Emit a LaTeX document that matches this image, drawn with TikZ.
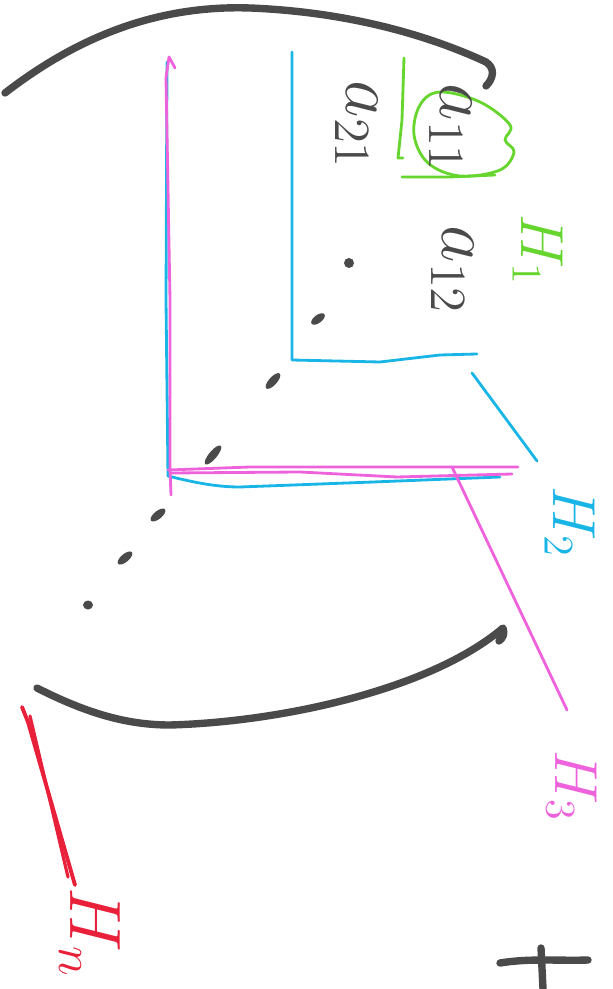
\documentclass[tikz,border=0pt]{standalone}
\usepackage{tikz}
\usetikzlibrary{calc, positioning}

\definecolor{inkgray}{HTML}{4A4A4A}
\definecolor{inkgreen}{HTML}{66D62E}
\definecolor{inkcyan}{HTML}{19B5E6}
\definecolor{inkpink}{HTML}{EE62DC}
\definecolor{inkred}{HTML}{E8203A}

\begin{document}
\begin{tikzpicture}[x=0.01cm, y=-0.01cm,
    bracket/.style={line width=2.1pt, inkgray, line cap=round, line join=round},
    pen/.style={line width=0.8pt, line cap=round, line join=round},
    entry/.style={rotate=-90, inner sep=0pt, text=inkgray, font=\fontsize{20}{24}\selectfont},
    tag/.style={rotate=-90, inner sep=0pt, font=\fontsize{18}{22}\selectfont}]

    \useasboundingbox (0,0) rectangle (612,989);

    % =================================================================
    % 1. CAC DIEM CHINH (don vi: pixel cua hinh goc)
    % =================================================================
    \coordinate (OuterCorner) at (168,476);
    \coordinate (InnerCorner) at (292,360);
    \coordinate (GreenTop) at (404,58);
    \coordinate (GreenCorner) at (402,177);

    % Dau cac duong dan toi nhan
    \coordinate (CyanFrom) at (472,373);
    \coordinate (CyanTo) at (537,461);
    \coordinate (PinkFrom) at (452,467);
    \coordinate (PinkTo) at (567,710);
    \coordinate (RedFrom) at (22,707);
    \coordinate (RedTo) at (75,885);

    % =================================================================
    % 2. HAI DAU NGOAC CUA MA TRAN
    % =================================================================
    \draw[bracket] (5,93) .. controls (80,35) and (160,5) .. (250,8)
        .. controls (350,12) and (430,36) .. (486,62)
        .. controls (495,68) and (494,78) .. (486,86);
    \draw[bracket] (37,688) .. controls (90,715) and (130,725) .. (170,725)
        .. controls (280,722) and (430,690) .. (503,628)
        .. controls (505,634) and (503,638) .. (499,641);

    % =================================================================
    % 3. CAC KHUNG MAU (H1, H2, H3)
    % =================================================================
    % Khung xanh la quanh a11
    \draw[pen, inkgreen] (GreenTop) -- (402,120) -- (398,158) -- (403,158);
    \draw[pen, inkgreen] (GreenCorner) -- (450,177) -- (495,175);
    \draw[pen, inkgreen] plot[smooth cycle, tension=0.6] coordinates
        {(440,92) (480,102) (510,125) (505,140) (514,152) (500,170) (460,176) (428,163) (414,135) (420,105)};

    % Khung xanh duong trong va ngoai
    \draw[pen, inkcyan] (292,52) -- (InnerCorner) -- (380,362) -- (440,355) -- (477,354);
    \draw[pen, inkcyan] (167,62) -- (166,300) -- (OuterCorner)
        .. controls (200,484) and (220,487) .. (240,487) -- (373,482) -- (500,477);

    % Khung hong
    \draw[pen, inkpink] (175,68) -- (169,57) -- (166,78) -- (170,300) -- (170,470) -- (171,495);
    \draw[pen, inkpink] (168,470) -- (250,467) -- (340,467) -- (518,467);
    \draw[pen, inkpink] (170,473) -- (300,472) -- (397,477) -- (512,474);

    % Duong dan toi nhan
    \draw[pen, inkcyan] (CyanFrom) -- (CyanTo);
    \draw[pen, inkpink] (PinkFrom) -- (PinkTo);
    \draw[pen, inkred, line width=1.1pt] (RedFrom) -- (28,722) -- (RedTo);
    \draw[pen, inkred, line width=0.9pt] (30,716) -- (68,877);

    % =================================================================
    % 4. CAC PHAN TU VA DAU CHAM
    % =================================================================
    \node[entry] (a11) at (451,128) {$a_{11}$};
    \node[entry] (a12) at (453,270) {$a_{12}$};
    \node[entry] (a21) at (357,125) {$a_{21}$};

    \foreach \px/\py/\ang/\len in {318/319/37/8, 273/381/48/10, 213/455/50/12,
                                  158/515/39/9, 125/558/40/9}
        \fill[inkgray, rotate around={\ang:(\px,\py)}] (\px,\py) ellipse (\len*0.01cm and 0.04cm);
    \fill[inkgray] (349,263) ellipse (0.05cm and 0.05cm);
    \fill[inkgray] (88,605) ellipse (0.05cm and 0.045cm);

    % =================================================================
    % 5. NHAN
    % =================================================================
    \node[tag, text=inkgreen] (H1) at (538,250) {$H_1$};
    \node[tag, text=inkcyan] (H2) at (570,522) {$H_2$};
    \node[tag, text=inkpink] (H3) at (572,786) {$H_3$};
    \node[tag, text=inkred, font=\fontsize{21}{25}\selectfont] (Hn) at (90,933) {$H_n$};

    % Dau cong o goc duoi
    \draw[bracket] (500,963) .. controls (530,958) and (560,961) .. (588,960);
    \draw[bracket] (541,948) -- (543,989);

\end{tikzpicture}
\end{document}
